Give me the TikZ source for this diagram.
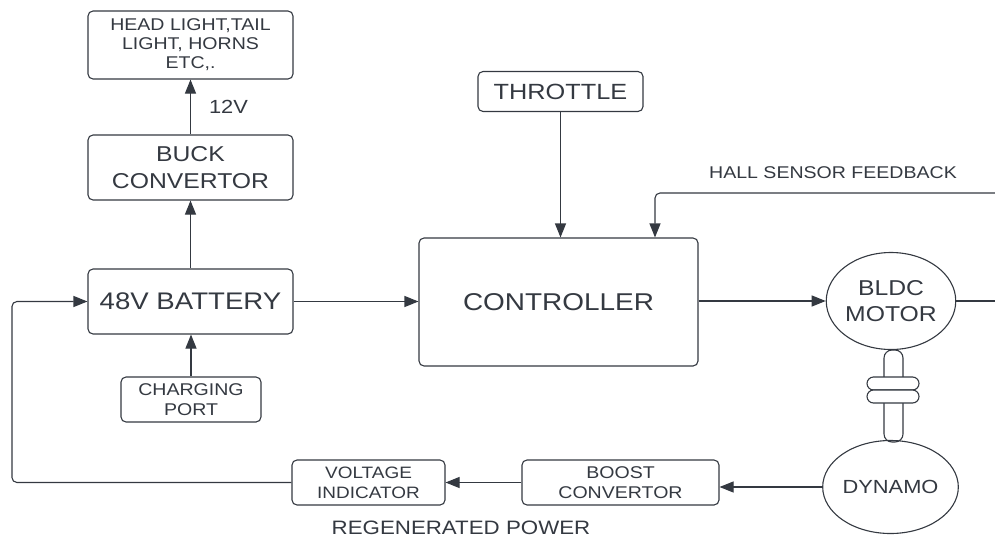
\documentclass[tikz,border=0pt]{standalone}
\usepackage{fontspec}
\setmainfont{Liberation Sans}[FakeStretch=1.15]
\usetikzlibrary{arrows.meta,shapes.geometric}
\definecolor{ink}{RGB}{52,57,65}
\begin{document}
\begin{tikzpicture}[x=1pt,y=-1pt]
	\tikzstyle{every node}+=[inner sep=0pt,text=ink]
	\tikzstyle{box}=[draw=ink,line width=1.1pt,rounded corners=5pt,align=center]
	\tikzstyle{round}=[draw=ink,line width=1.1pt,ellipse,align=center]
	\tikzstyle{arr}=[draw=ink,line width=1.1pt,-{Triangle[length=14pt,width=11pt]}]
	\tikzstyle{wire}=[draw=ink,line width=1.1pt]
	\newcommand{\fs}[2]{\fontsize{#1}{#2}\selectfont}
	\useasboundingbox (0,0) rectangle (995,538);
	\node [box,minimum width=205,minimum height=68,font=\fs{17}{19}] (head) at (190.5,45) {HEAD LIGHT,TAIL\\LIGHT, HORNS\\ETC,.};
	\node [box,minimum width=205,minimum height=65,font=\fs{21.5}{27}] (buck) at (190.5,167.5) {BUCK\\CONVERTOR};
	\node [box,minimum width=205,minimum height=65,font=\fs{24}{28}] (batt) at (190.5,301.5) {48V BATTERY};
	\node [box,minimum width=140,minimum height=45,font=\fs{17}{20}] (port) at (191,399.5) {CHARGING\\PORT};
	\node [box,minimum width=153,minimum height=45,font=\fs{16.5}{20}] (volt) at (368.5,482.5) {VOLTAGE\\INDICATOR};
	\node [box,minimum width=197,minimum height=45,font=\fs{17}{20}] (boost) at (620.5,482.5) {BOOST\\CONVERTOR};
	\node [box,minimum width=279,minimum height=128,font=\fs{24.3}{28}] (ctrl) at (558.5,302) {CONTROLLER};
	\node [box,minimum width=165,minimum height=40,font=\fs{22}{24}] (thr) at (560.5,91.5) {THROTTLE};
	\node [round,minimum width=128,minimum height=97,font=\fs{21.5}{26}] (motor) at (891,301) {BLDC\\MOTOR};
	\node [round,minimum width=115,minimum height=93,font=\fs{19}{22}] (dyn) at (890.5,487) {DYNAMO};
	\node [box,rounded corners=8pt,minimum width=19,minimum height=92] (shaft) at (893.5,396) {};
	\node [box,fill=white,rounded corners=6.5pt,minimum width=52,minimum height=13] (ringa) at (893,383.5) {};
	\node [box,fill=white,rounded corners=6.5pt,minimum width=52,minimum height=13] (ringb) at (893,396.5) {};
	\node [font=\fs{17}{19}] (hall) at (833,173) {HALL SENSOR FEEDBACK};
	\node [font=\fs{19.4}{22}] (regen) at (461,528) {REGENERATED POWER};
	\coordinate (hallin) at (995,193);
	\coordinate (mout) at (995,301);
	\draw [arr] (buck.north) -- node [right=18pt,font=\fs{19}{20}] (volts) {12V} (head.south);
	\draw [arr] (batt.north) -- (buck.south);
	\draw [arr] (port.north) -- (port.north |- batt.south);
	\draw [arr] (batt.east) -- (batt.east -| ctrl.west);
	\draw [arr] (thr.south) -- (thr.south |- ctrl.north);
	\draw [arr,rounded corners=5pt] (hallin) -| ([xshift=96.5]ctrl.north);
	\draw [arr] (ctrl.east |- motor.west) -- (motor.west);
	\draw [wire] (motor.east) -- (mout);
	\draw [arr] (dyn.west) -- (dyn.west -| boost.east);
	\draw [arr] (boost.west) -- (volt.east);
	\draw [arr,rounded corners=5pt] (volt.west) -- ++(-279.5,0) |- (batt.west);
\end{tikzpicture}
\end{document}
